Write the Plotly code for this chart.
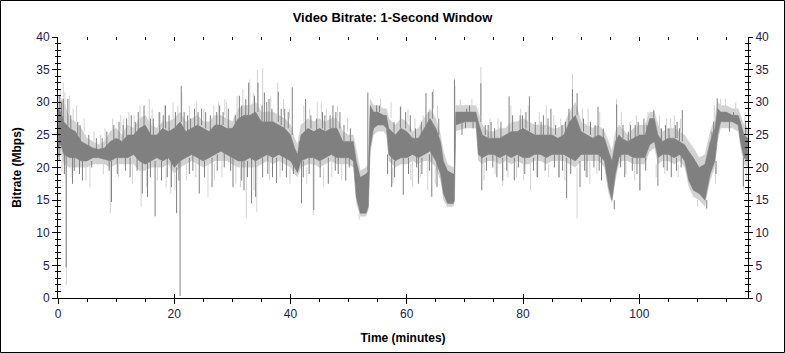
import plotly.graph_objects as go

# ---- data (minutes, Mbps) ----
t_min = [0.0, 0.5, 1, 2, 3, 4, 5, 6, 7, 8, 9, 10, 11, 12, 13, 14, 15, 16, 17, 18, 19, 20,
         21, 22, 23, 24, 25, 26, 27, 28, 29, 30, 31, 32, 33, 34, 35, 36, 37, 38, 39, 40,
         40.7, 41.2, 41.8, 43, 44, 45, 46, 47, 48, 49, 50, 50.8, 51.3, 52, 53, 53.4, 53.7,
         54.3, 55, 56, 56.5, 56.9, 58, 59, 60, 61, 62, 63, 64, 65, 65.8, 66.3, 67, 68, 68.2,
         68.4, 70, 71, 71.9, 72.3, 73, 74, 75, 76, 77, 78, 79, 80, 81, 82, 83, 84, 85, 86,
         87, 88, 89, 90, 91, 92, 93, 94, 94.7, 95.3, 95.9, 96.5, 97, 98, 99, 100, 101, 101.8,
         102.6, 103.2, 104, 105, 106, 107, 107.8, 108.5, 109.3, 110.3, 111.3, 112.2, 113,
         113.5, 114, 115, 116, 117, 117.4, 118, 118.7]
dark_lo = [23, 23.5, 22, 21.5, 21.5, 21, 21, 21.5, 21.5, 21.3, 21, 21.5, 21.5, 21.5, 22, 21,
           20.5, 21, 21.5, 21, 21.5, 20, 21, 21.5, 22, 21.5, 21, 21.5, 22, 22.5, 22, 21.5, 21,
           21, 21.5, 21, 21.5, 22, 21.5, 22, 21.5, 21, 20, 19.2, 21, 21.5, 21.5, 21, 21.5, 22,
           21.5, 21.5, 21.5, 21, 15.5, 13, 13, 14, 23, 26, 26.5, 26.5, 26, 22, 21, 21.5, 21.5,
           22, 21.5, 22, 22.5, 21, 19, 16, 14.5, 14.5, 15, 26.5, 27, 27, 27, 22, 21.5, 22, 22,
           21.5, 22, 21.5, 22, 21.5, 21.5, 22, 22, 21.5, 22, 22, 22, 21.5, 21, 22, 22, 22, 22,
           21, 17, 15, 19, 21.5, 22, 22, 21.5, 21.5, 21.5, 23.5, 24, 21.5, 22, 22, 21.5, 22,
           21, 18, 16.5, 16, 15, 19, 21, 25, 27, 27, 27, 26.5, 24, 21.5, 21]
dark_hi = [29, 28.5, 27, 26, 25.5, 24, 23.5, 23, 22.8, 23, 24, 24.5, 24, 25, 25, 26, 26.5, 25,
           25, 26, 25.5, 26, 27, 25.5, 26, 26.5, 26, 25.5, 26.5, 26.5, 26, 26, 27.5, 28, 28,
           28.5, 27, 27, 27, 26.5, 26, 25, 23, 22, 25, 26, 25.5, 26, 25.5, 26, 26, 24, 24, 24,
           21, 18.5, 19, 19.5, 29.5, 28.5, 28.5, 28, 28, 26, 25, 26, 25.5, 24.5, 24.5, 26,
           27.5, 26, 24, 21, 19.5, 19, 19, 28.5, 28.5, 28.5, 28.5, 27, 25, 24.5, 24.5, 24.5,
           25, 25.5, 25.5, 26, 25.5, 25, 25, 25, 25, 24.5, 25, 27, 28, 25.5, 25, 24.5, 25,
           24.5, 22.5, 21, 24, 25, 24.5, 24, 24.5, 25, 25, 27.5, 27.5, 25, 24, 24.5, 24.5, 24,
           23.5, 22.5, 21.5, 20, 20.5, 24, 26, 29, 28.5, 28.5, 28, 28, 27, 25, 24.5]
light_lo = [21.5, 22, 20.5, 20, 20, 20, 20, 20.5, 20.5, 20.5, 20, 20.5, 20.5, 20.5, 20.5, 19.5,
            19.5, 20, 20, 20, 20.5, 19, 20, 20.5, 21, 20.5, 20, 20.5, 21, 21, 21, 20.5, 20, 20,
            20, 20, 20.5, 21, 20.5, 21, 20.5, 20, 19, 18.5, 20, 20.5, 20.5, 20, 20.5, 21, 20.5,
            20.5, 20.5, 20, 14.5, 12.5, 12.5, 13.5, 22, 25, 25.5, 25.5, 25, 21, 20, 20.5, 20.5,
            21, 20.5, 21, 21, 20, 18, 15, 14, 14, 14.5, 25.5, 26, 26, 26, 21, 20.5, 21, 21,
            20.5, 21, 20.5, 21, 20.5, 20.5, 21, 21, 20.5, 21, 21, 21, 20.5, 20, 21, 21, 21, 21,
            20, 16, 14.5, 18, 20.5, 21, 21, 20.5, 20.5, 20.5, 22.5, 23, 20.5, 21, 21, 20.5, 21,
            20, 17, 15.5, 15, 14, 18, 20, 24, 26, 26, 26, 25.5, 23, 20.5, 20]
light_hi = [31, 30.5, 30, 27.5, 27, 26, 24.5, 24, 23.5, 24, 25.5, 26, 25, 26.5, 26, 27.5, 28,
            26.5, 26, 27, 27, 27.5, 28.5, 27, 27.5, 28, 27, 27, 28, 28, 27.5, 27, 29, 29.5,
            29.5, 30, 28.5, 28.5, 28.5, 28, 27.5, 26.5, 24.5, 23.5, 26.5, 27.5, 27, 27.5, 27,
            27.5, 27.5, 25.5, 25, 25, 22.5, 19.5, 20, 20.5, 30.5, 29.5, 29.5, 29, 29, 27.5,
            26.5, 27.5, 27, 25.5, 26, 27.5, 29, 27.5, 25, 22.5, 20.5, 20, 20, 29.5, 29.5, 29.5,
            29.5, 28.5, 26.5, 25.5, 25.5, 26, 26, 27, 27, 27.5, 27, 26.5, 26.5, 26.5, 26, 26,
            26.5, 28.5, 30, 27, 26.5, 26, 26.5, 25.5, 24, 22.5, 25.5, 26.5, 26, 25, 26, 26.5,
            26.5, 28.5, 28.5, 26.5, 25.5, 26, 26, 25.5, 25, 24, 23, 21.5, 22, 25.5, 27.5, 30,
            29.5, 29.5, 29, 29, 28, 26.5, 26]

# isolated spikes: (minute, Mbps where it leaves the band, tip Mbps)
dark_spikes = [
    (0.3, 28, 31), (0.9, 27, 30.5), (1.4, 22, 4.7), (1.7, 26, 30.5), (2.5, 22, 17.5),
    (3.4, 25, 27), (4.2, 21.5, 18), (9.2, 21, 14.7), (10.5, 24, 27), (12.6, 25, 28),
    (14.5, 21, 16), (14.8, 26, 29.5), (15.4, 21, 15.5), (16.7, 21, 12.5), (17.5, 25, 28.5),
    (18.5, 26, 29.5), (19.5, 21, 17), (20.4, 20, 13), (21.0, 21, 0.3), (21.2, 27, 32.5),
    (22.3, 25.5, 28), (23.5, 26, 29), (24.3, 21.5, 16), (26.5, 21.5, 17), (27.8, 26.5, 29.5),
    (29.3, 26, 29), (30.1, 21.5, 17), (31.2, 27.5, 31), (32.0, 21, 16.5), (32.8, 28, 33),
    (33.3, 21.5, 14.5), (34.0, 21, 15.5), (34.4, 28.5, 33), (35.5, 27, 31.5), (36.3, 27, 30.5),
    (37.6, 21.5, 17.6), (37.9, 27, 31.6), (39.0, 26, 29), (40.3, 25, 32.3), (41.9, 21, 14.5),
    (42.6, 25.5, 30.5), (44.0, 21.5, 13.5), (45.5, 26, 28.5), (46.5, 21.5, 17.5),
    (47.3, 26, 29.5), (48.5, 26, 28.5), (49.5, 21.5, 18), (53.3, 19.5, 31.5),
    (55.3, 28.5, 29.5), (57.4, 22, 17), (58.9, 26, 29.3), (59.4, 21.5, 15.8), (60.6, 25.5, 28),
    (62.0, 21.5, 17.5), (63.3, 26, 31.4), (64.3, 22.5, 15.5), (64.4, 27.5, 31.6),
    (65.2, 21, 17), (68.2, 19, 33.5), (69.5, 27, 25), (70.8, 28.5, 29.5), (72.75, 27, 32.9),
    (72.9, 22, 16.5), (74.5, 24.5, 27), (75.5, 22, 18.5), (76.5, 21.5, 18), (77.6, 25, 30.9),
    (78.5, 21.5, 18), (79.5, 25.5, 28), (81.1, 25.5, 30.9), (82.5, 22, 18.5), (83.5, 25, 28),
    (84.8, 25, 29), (86.2, 22, 18.5), (87.5, 21.5, 15.3), (88.5, 27, 32), (89.3, 28, 31.4),
    (89.8, 21, 17), (91.0, 22, 18.5), (92.9, 24.5, 29.3), (93.5, 22, 18), (95.7, 15, 13.6),
    (96.1, 24, 29.7), (97.5, 22, 18.5), (98.5, 24, 26.5), (100.1, 21.5, 16.5),
    (100.8, 25, 27.5), (102.5, 27.5, 28.8), (103.2, 21.5, 17.2), (104.5, 24, 26.5),
    (105.5, 22, 18.5), (106.5, 24.5, 27), (107.4, 24, 28.8), (111.6, 15, 13.7),
    (112.5, 24, 25.5), (113.4, 26, 30.6), (115.5, 27, 25.5), (117.9, 21.5, 17.1),
]
dark_fringe = [
    (0.6, 27, 30), (2.2, 25, 28), (3.8, 24, 26.5), (5.3, 23, 25), (6.6, 22.8, 24.5),
    (7.6, 22.8, 24.5), (8.4, 23, 25.5), (9.6, 24, 26.5), (11.2, 24, 26.5), (11.8, 24.5, 27.5),
    (13.3, 25, 27), (13.8, 25.5, 28.5), (15.9, 25, 27.5), (16.4, 25, 27.5), (18.1, 26, 28),
    (19.1, 25.5, 28), (20.2, 26, 28.5), (21.7, 26, 28.5), (22.8, 25.5, 27.5), (24.1, 26.5, 28.5),
    (24.7, 26.5, 29), (25.4, 26, 28.5), (26.2, 25.5, 28), (27.3, 26.5, 28.5), (28.4, 26.5, 28.5),
    (30.5, 26, 28), (31.6, 27.5, 29.5), (32.3, 28, 30.5), (33.8, 28, 31), (35.1, 27, 29.5),
    (35.9, 27, 30), (36.8, 27, 29), (38.4, 26.5, 29), (39.6, 26, 28.5), (41.5, 22, 24),
    (43.5, 26, 28), (44.5, 25.5, 27.5), (45.9, 25.5, 28), (46.8, 26, 28), (47.8, 26, 28.5),
    (49.2, 24, 26.5), (50.3, 24, 26), (54.8, 28.5, 29.5), (57.8, 25, 27), (59.8, 26, 28.5),
    (61.5, 24.5, 26), (62.5, 24.5, 27), (63.8, 26, 28.5), (65.5, 25, 27.5), (70.3, 28.5, 29),
    (73.5, 25, 26.5), (74.0, 24.5, 26.5), (75.1, 24.5, 26), (76.2, 24.5, 27), (78.2, 25.5, 28),
    (79.9, 25.5, 28), (80.5, 26, 28.5), (82.1, 25, 27), (83.1, 25, 27), (84.3, 25, 27.5),
    (85.6, 25, 26.5), (86.7, 24.5, 26.5), (87.3, 25, 27), (87.9, 26, 29), (90.4, 25.5, 27.5),
    (91.6, 25, 27), (92.4, 24.5, 26.5), (93.8, 24.5, 26), (97.2, 24.5, 26.5), (98.1, 24, 25.5),
    (99.3, 24.5, 26.5), (99.8, 25, 27), (101.3, 25, 26.5), (103.8, 24, 26), (105.1, 24.5, 26),
    (106.2, 24.5, 26.5), (106.9, 24, 26), (112.8, 25, 27), (116.2, 28, 28.5), (118.3, 25, 27),
    (0.2, 23, 21), (1.1, 22, 19), (2.8, 21.5, 19.5), (3.7, 21.5, 19), (5.8, 21, 20),
    (8.8, 21, 19.5), (10.2, 21.5, 19), (11.6, 21.5, 19.5), (12.4, 21.5, 18.5), (13.6, 22, 19.5),
    (15.9, 21, 18.5), (17.8, 21, 18), (18.8, 21.5, 18.5), (20.8, 21, 18), (22.6, 21.5, 19),
    (23.2, 22, 19.5), (25.2, 21, 18.5), (27.4, 22, 19.5), (28.6, 22.5, 20), (29.7, 22, 19.5),
    (31.6, 21, 18), (32.6, 21, 18.5), (35.2, 21.5, 18.5), (36.1, 22, 19), (36.9, 21.5, 18.5),
    (38.6, 22, 19.5), (39.3, 21.5, 18.5), (40.5, 21, 19), (42.2, 21, 18.5), (43.2, 21.5, 19),
    (45.1, 21, 18.5), (47.7, 22, 19.5), (48.2, 21.5, 19), (50.1, 21.5, 20), (56.7, 22, 19),
    (57.9, 21, 18.5), (60.3, 21.5, 19), (61.7, 22, 20), (62.6, 21.5, 19), (63.9, 22, 19.5),
    (70.1, 27, 26), (71.4, 27, 26), (73.7, 21.5, 19.5), (74.8, 22, 20), (77.2, 22, 19.5),
    (79.2, 22, 20), (80.3, 21.5, 19), (81.8, 21.5, 19.5), (83.8, 21.5, 19.5), (85.4, 22, 20),
    (86.8, 22, 19.5), (88.2, 21.5, 19), (90.6, 22, 19.5), (92.2, 22, 20), (93.1, 22, 19.5),
    (96.8, 22, 20), (98.8, 21.5, 19.5), (99.6, 21.5, 19), (101.1, 21.5, 19.5), (104.2, 22, 20),
    (104.8, 22, 19.5), (106.4, 21.5, 19.5), (107.2, 22, 20), (113.2, 21, 19),
]
light_spikes = [
    (0.9, 29, 33), (1.45, 22, 2), (2.0, 26, 31), (5.5, 21, 17), (9.0, 21, 13), (11.3, 24, 27.5),
    (14.3, 21, 14), (15.7, 26, 30.5), (19.4, 21, 16), (21.3, 28, 31.5), (25.8, 21, 15.5),
    (29.0, 27, 30), (32.4, 21, 12.2), (33.0, 28, 33.5), (34.2, 21, 13.2), (34.3, 28, 35),
    (35.2, 28, 35.2), (37.8, 27, 33), (43.9, 21, 12.7), (44.6, 27, 30), (51.8, 13, 12),
    (55.5, 29, 30.5), (59.0, 27, 29.5), (61.0, 21, 17), (63.6, 21, 16.5), (64.6, 29, 32),
    (68.3, 29, 32.5), (72.75, 28, 35.4), (76.5, 21, 17.1), (81.3, 21, 16.5), (84.0, 26.5, 29.5),
    (88.5, 28, 34.4), (89.3, 20, 12.2), (91.5, 21, 17.5), (96.1, 26, 30.5), (100.1, 21, 16.4),
    (106.0, 26, 28), (110.0, 15, 14), (114.0, 29.5, 30.5), (117.9, 21, 16.5),
]
light_fringe = [
    (0.4, 30, 32), (1.2, 29, 31.5), (2.6, 27, 29), (3.2, 27, 29.5), (4.5, 25.5, 27.5),
    (6.2, 24, 25.5), (7.3, 23.5, 25), (8.1, 24, 26), (9.4, 25.5, 27.5), (10.8, 25.5, 28),
    (12.2, 26, 28.5), (13.1, 26, 28), (14.1, 27.5, 29.5), (16.2, 26.5, 29), (17.3, 26, 28.5),
    (18.3, 27, 29.5), (19.8, 27.5, 30), (20.6, 27.5, 29.5), (22.6, 27, 29.5), (23.8, 27.5, 30),
    (25.1, 27, 29), (26.8, 27, 29.5), (27.6, 28, 30), (28.7, 28, 30.5), (30.8, 28, 31),
    (31.8, 29, 32), (33.6, 29.5, 31.5), (36.6, 28.5, 31), (38.8, 28, 30.5), (39.8, 27.5, 29),
    (42.3, 27, 29.5), (43.3, 27.5, 29), (45.3, 27.5, 30), (46.2, 27, 29), (48.1, 27.5, 29.5),
    (49.8, 25.5, 27.5), (57.3, 27.5, 30), (60.2, 27, 29), (61.4, 25.5, 27.5), (62.8, 26, 28),
    (65.3, 27.5, 29.5), (69.2, 29.5, 30.5), (71.2, 29.5, 30.5), (74.3, 25.5, 27.5),
    (75.7, 25.5, 27.5), (77.9, 27, 29.5), (79.6, 27, 29), (80.9, 27, 29.5), (82.8, 26.5, 28.5),
    (85.3, 26, 28), (86.5, 26, 27.5), (90.2, 27, 29), (91.2, 26.5, 29), (93.2, 26.5, 28.5),
    (96.9, 26, 28.5), (98.4, 25, 27), (99.5, 26, 28), (101.5, 26.5, 28.5), (103.5, 26, 28),
    (104.7, 25.5, 27.5), (105.4, 26, 27.5), (107.1, 25.5, 27.5), (112.9, 27.5, 29.5),
    (114.8, 29.5, 30.5), (116.6, 29, 30), (118.2, 26.5, 28.5),
    (0.7, 21.5, 19.5), (2.4, 20, 18.5), (4.8, 20, 18), (7.8, 20.5, 19), (10.4, 20.5, 18.5),
    (12.8, 20.5, 17.5), (15.2, 19.5, 17), (17.1, 20, 18), (18.6, 20, 17), (20.1, 19, 16.5),
    (22.1, 20.5, 18), (23.7, 21, 18.5), (26.9, 20.5, 18), (28.2, 21, 18.5), (30.6, 20.5, 17.5),
    (31.4, 20, 17), (33.7, 20, 16.5), (36.4, 21, 18), (38.2, 21, 18.5), (39.9, 20, 17.5),
    (42.8, 20, 17.5), (45.7, 20, 17), (47.1, 21, 18.5), (48.8, 20.5, 18), (57.6, 20, 17.5),
    (60.7, 20.5, 18), (62.3, 20.5, 18.5), (64.9, 20, 17.5), (73.3, 20.5, 18), (75.2, 21, 19),
    (77.4, 21, 18.5), (78.9, 21, 18.5), (80.1, 20.5, 18), (82.3, 21, 18.5), (84.4, 20.5, 18.5),
    (86.1, 21, 18.5), (87.2, 21, 18), (90.8, 21, 18.5), (92.7, 21, 19), (97.7, 21, 19),
    (99.2, 20.5, 18), (102.9, 20.5, 18.5), (104.4, 21, 19), (106.7, 20.5, 18.5),
    (113.1, 20, 17.5), (118.4, 20.5, 18),
]

x_ticks = [0, 20, 40, 60, 80, 100]
y_ticks = [0, 5, 10, 15, 20, 25, 30, 35, 40]
X_MAX = 118.7

DARK = "#808080"
LIGHT = "#d2d2d2"
TICKC = "#202050"
FONT = "Arial, Liberation Sans, sans-serif"


def segs(spikes):
    xs, ys = [], []
    for t, y0, y1 in spikes:
        xs += [t, t, None]
        ys += [y0, y1, None]
    return xs, ys


fig = go.Figure()
# light envelope
fig.add_trace(go.Scatter(x=t_min, y=light_lo, mode="lines", line=dict(width=0, color=LIGHT),
                         hoverinfo="skip", showlegend=False))
fig.add_trace(go.Scatter(x=t_min, y=light_hi, mode="lines", line=dict(width=0.5, color=LIGHT),
                         fill="tonexty", fillcolor=LIGHT, hoverinfo="skip", showlegend=False))
lx, ly = segs(light_spikes + light_fringe)
fig.add_trace(go.Scatter(x=lx, y=ly, mode="lines", line=dict(width=1, color=LIGHT),
                         hoverinfo="skip", showlegend=False))
# dark core
fig.add_trace(go.Scatter(x=t_min, y=dark_lo, mode="lines", line=dict(width=0.5, color=DARK),
                         hoverinfo="skip", showlegend=False))
fig.add_trace(go.Scatter(x=t_min, y=dark_hi, mode="lines", line=dict(width=0.5, color=DARK),
                         fill="tonexty", fillcolor=DARK, hoverinfo="skip", showlegend=False))
dx, dy = segs(dark_spikes + dark_fringe)
fig.add_trace(go.Scatter(x=dx, y=dy, mode="lines", line=dict(width=1, color=DARK),
                         hoverinfo="skip", showlegend=False))

# empty traces so that the extra tick-only axes get drawn
for xa, ya in [("x2", "y"), ("x3", "y"), ("x", "y2"), ("x", "y3"), ("x", "y4")]:
    fig.add_trace(go.Scatter(x=[None], y=[None], xaxis=xa, yaxis=ya, mode="lines",
                             hoverinfo="skip", showlegend=False))

L, R, T, B = 58, 37, 37, 55
W, H = 785, 353
pw, ph = W - L - R, H - T - B

tickfont = dict(family=FONT, size=12, color=TICKC)
common_x = dict(range=[0, X_MAX], tickvals=x_ticks, showgrid=False, zeroline=False,
                fixedrange=True, automargin=False)
common_y = dict(range=[0, 40], tickvals=y_ticks, showgrid=False, zeroline=False,
                fixedrange=True, automargin=False)

fig.update_layout(
    width=W, height=H,
    margin=dict(l=L, r=R, t=T, b=B, autoexpand=False),
    paper_bgcolor="white", plot_bgcolor="white",
    showlegend=False,
    title=dict(text="<b>Video Bitrate: 1-Second Window</b>", x=0.5, xref="container",
               xanchor="center", y=1 - 17 / H, yref="container", yanchor="middle",
               font=dict(family=FONT, size=13, color="black")),
    xaxis=dict(**common_x, ticks="outside", ticklen=5, tickcolor="black", tickwidth=1,
               showline=True, linecolor="black", linewidth=1, tickfont=tickfont,
               minor=dict(dtick=5, ticks="outside", ticklen=3, tickcolor="black"),
               title=dict(text="<b>Time (minutes)</b>", standoff=13,
                          font=dict(family=FONT, size=12, color="black"))),
    xaxis2=dict(**common_x, overlaying="x", side="top", anchor="y", ticks="inside", ticklen=4,
                tickcolor="black", showticklabels=False, showline=False,
                minor=dict(dtick=5, ticks="inside", ticklen=3, tickcolor="black")),
    xaxis3=dict(**common_x, overlaying="x", side="bottom", anchor="y", ticks="inside",
                ticklen=4, tickcolor="black", showticklabels=False, showline=False),
    yaxis=dict(**common_y, ticks="outside", ticklen=5, tickcolor="black", showline=True,
               linecolor="black", linewidth=1, tickfont=tickfont,
               minor=dict(dtick=1, ticks="outside", ticklen=2, tickcolor="black"),
               title=dict(text="<b>Bitrate (Mbps)</b>", standoff=12,
                          font=dict(family=FONT, size=12, color="black"))),
    yaxis3=dict(**common_y, overlaying="y", side="left", anchor="x", ticks="inside", ticklen=3,
                tickcolor="black", showticklabels=False, showline=False,
                minor=dict(dtick=1, ticks="inside", ticklen=3, tickcolor="black")),
    yaxis2=dict(**common_y, overlaying="y", side="right", anchor="x", ticks="outside",
                ticklen=4, tickcolor="black", showline=True, linecolor="black", linewidth=1,
                tickfont=tickfont,
                minor=dict(dtick=1, ticks="outside", ticklen=2, tickcolor="black")),
    yaxis4=dict(**common_y, overlaying="y", side="right", anchor="x", ticks="inside",
                ticklen=4, tickcolor="black", showticklabels=False, showline=False,
                minor=dict(dtick=1, ticks="inside", ticklen=3, tickcolor="black")),
)

# outer frame around the whole image
fig.add_shape(type="rect", xref="paper", yref="paper",
              x0=(0.5 - L) / pw, x1=(W - 0.5 - L) / pw,
              y0=(H - B - (H - 0.5)) / ph, y1=(H - B - 0.5) / ph,
              line=dict(color="black", width=1), fillcolor="rgba(0,0,0,0)", layer="above")

fig.write_html("out.html")
